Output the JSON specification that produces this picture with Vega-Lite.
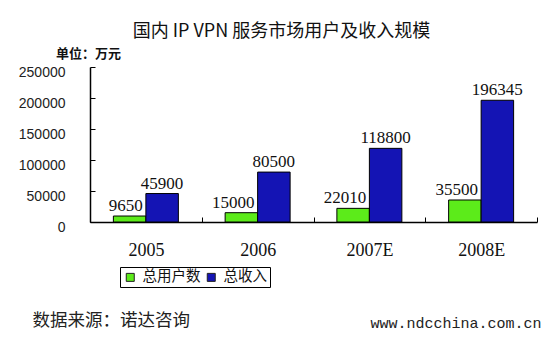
{
  "$schema": "https://vega.github.io/schema/vega-lite/v6.json",
  "width": 447,
  "height": 155,
  "autosize": {"type": "none"},
  "padding": {"left": 90, "top": 67, "right": 13, "bottom": 115},
  "background": "white",
  "title": {
    "text": "国内 IP VPN 服务市场用户及收入规模",
    "font": "Noto Sans CJK SC",
    "fontSize": 18,
    "fontWeight": "normal",
    "color": "#111",
    "anchor": "middle",
    "dx": -32,
    "offset": 6
  },
  "data": {
    "values": [
      {"year": "2005", "series": "总用户数", "value": 9650},
      {"year": "2005", "series": "总收入", "value": 45900},
      {"year": "2006", "series": "总用户数", "value": 15000},
      {"year": "2006", "series": "总收入", "value": 80500},
      {"year": "2007E", "series": "总用户数", "value": 22010},
      {"year": "2007E", "series": "总收入", "value": 118800},
      {"year": "2008E", "series": "总用户数", "value": 35500},
      {"year": "2008E", "series": "总收入", "value": 196345}
    ]
  },
  "encoding": {
    "x": {
      "field": "year",
      "type": "nominal",
      "sort": null,
      "scale": {"paddingInner": 0, "paddingOuter": 0},
      "axis": {
        "title": "数据来源：诺达咨询",
        "titleX": -58,
        "titleY": 98,
        "titleAlign": "left",
        "titleBaseline": "middle",
        "titleFont": "Noto Sans CJK SC",
        "titleFontSize": 17.5,
        "titleFontWeight": "normal",
        "titleColor": "#222",
        "labelAngle": 0,
        "labelFont": "Liberation Serif",
        "labelFontSize": 18,
        "labelColor": "#111",
        "labelBaseline": "middle",
        "labelPadding": 33,
        "tickBand": "extent",
        "tickSize": -5,
        "tickColor": "black",
        "domainColor": "black",
        "domainWidth": 1.5
      }
    },
    "xOffset": {
      "field": "series",
      "type": "nominal",
      "sort": ["总用户数", "总收入"],
      "scale": {"paddingInner": 0, "paddingOuter": 0.72}
    }
  },
  "layer": [
    {
      "mark": {"type": "bar", "stroke": "black", "strokeWidth": 1},
      "encoding": {
        "y": {
          "field": "value",
          "type": "quantitative",
          "scale": {"domain": [0, 250000], "nice": false},
          "axis": {
            "values": [0, 50000, 100000, 150000, 200000, 250000],
            "format": "d",
            "labelFont": "Liberation Sans",
            "labelFontSize": 14,
            "labelColor": "#222",
            "labelPadding": 30,
            "labelOffset": 5,
            "tickSize": -5,
            "tickColor": "black",
            "domainColor": "black",
            "domainWidth": 1.5,
            "title": "单位：万元",
            "titleAngle": 0,
            "titleX": -2,
            "titleY": -14,
            "titleAlign": "center",
            "titleBaseline": "middle",
            "titleFont": "Noto Sans CJK SC",
            "titleFontSize": 13,
            "titleFontWeight": "bold",
            "titleColor": "#111"
          }
        },
        "color": {
          "field": "series",
          "type": "nominal",
          "scale": {"domain": ["总用户数", "总收入"], "range": ["#5CEB1A", "#1414B4"]},
          "legend": {
            "orient": "none",
            "legendX": 30,
            "legendY": 200,
            "direction": "horizontal",
            "columns": 2,
            "title": null,
            "strokeColor": "black",
            "padding": 3,
            "symbolType": "square",
            "symbolSize": 64,
            "symbolStrokeColor": "#222",
            "symbolStrokeWidth": 1,
            "labelFont": "Noto Sans CJK SC",
            "labelFontSize": 14.5,
            "labelColor": "#111",
            "labelOffset": 5,
            "columnPadding": 3
          }
        }
      }
    },
    {
      "transform": [{"filter": "datum.series === '总用户数'"}],
      "mark": {"type": "text", "align": "right", "dx": 13, "dy": -5, "baseline": "alphabetic", "font": "Liberation Serif", "fontSize": 17, "color": "#111"},
      "encoding": {
        "text": {"field": "value", "type": "quantitative", "format": "d"},
        "y": {"field": "value", "type": "quantitative", "scale": {"domain": [0, 250000], "nice": false}, "axis": null}
      }
    },
    {
      "transform": [{"filter": "datum.series === '总收入'"}],
      "mark": {"type": "text", "align": "center", "dy": -5, "baseline": "alphabetic", "font": "Liberation Serif", "fontSize": 17, "color": "#111"},
      "encoding": {
        "text": {"field": "value", "type": "quantitative", "format": "d"},
        "y": {
          "field": "value",
          "type": "quantitative",
          "scale": {"domain": [0, 250000], "nice": false},
          "axis": {
            "orient": "right",
            "title": "www.ndcchina.com.cn",
            "labels": false,
            "ticks": false,
            "domain": false,
            "grid": false,
            "titleAngle": 0,
            "titleX": -81.5,
            "titleY": 255.5,
            "titleAlign": "center",
            "titleBaseline": "middle",
            "titleFont": "Liberation Mono",
            "titleFontSize": 15,
            "titleFontWeight": "normal",
            "titleColor": "#222"
          }
        }
      }
    }
  ],
  "resolve": {"axis": {"y": "independent"}},
  "config": {
    "view": {"stroke": null},
    "axis": {"grid": false}
  }
}
